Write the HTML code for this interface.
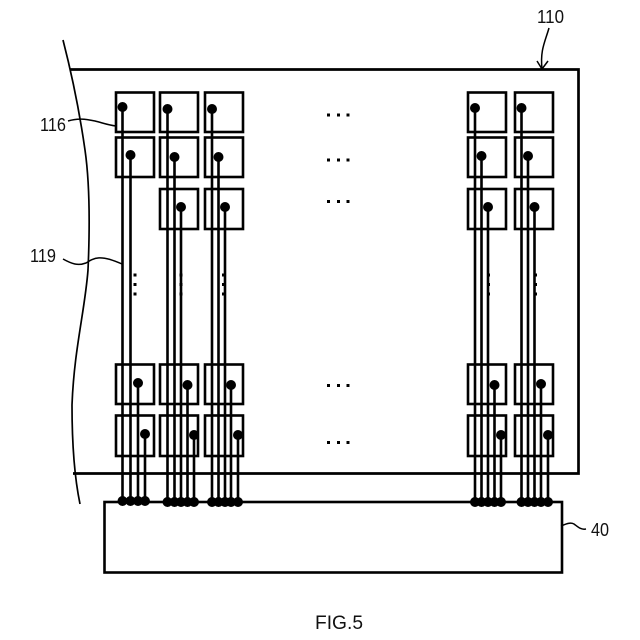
<!DOCTYPE html>
<html><head><meta charset="utf-8"><style>
html,body{margin:0;padding:0;background:#fff;width:640px;height:640px;overflow:hidden}
svg{display:block}
text{font-family:"Liberation Sans",sans-serif;fill:#111;font-size:18px}
</style></head><body>
<svg width="640" height="640" viewBox="0 0 640 640" xmlns="http://www.w3.org/2000/svg">
<rect width="640" height="640" fill="#fff"/>
<!-- outer panel -->
<path d="M70 69.5H578.500V473.500H73" fill="none" stroke="#000" stroke-width="2.700"/>
<!-- break line -->
<path d="M63 40C72 75 80 115 85 150C90 185 90 225 88 270C85 310 74 350 72 405C72 440 74 475 80 504" fill="none" stroke="#000" stroke-width="1.700"/>
<!-- chip -->
<rect x="104.500" y="502" width="457.500" height="70.500" fill="#fff" stroke="#000" stroke-width="2.600"/>
<!-- boxes -->
<g fill="none" stroke="#000" stroke-width="2.600">
<rect x="116" y="92.500" width="38" height="39.500"/><rect x="116" y="137.500" width="38" height="39.500"/>
<rect x="116" y="364.500" width="38" height="39.500"/><rect x="116" y="415.500" width="38" height="40.500"/>
<rect x="160" y="92.500" width="38" height="39.500"/><rect x="160" y="137.500" width="38" height="39.500"/><rect x="160" y="189" width="38" height="40"/>
<rect x="160" y="364.500" width="38" height="39.500"/><rect x="160" y="415.500" width="38" height="40.500"/>
<rect x="205" y="92.500" width="38" height="39.500"/><rect x="205" y="137.500" width="38" height="39.500"/><rect x="205" y="189" width="38" height="40"/>
<rect x="205" y="364.500" width="38" height="39.500"/><rect x="205" y="415.500" width="38" height="40.500"/>
<rect x="468" y="92.500" width="38" height="39.500"/><rect x="468" y="137.500" width="38" height="39.500"/><rect x="468" y="189" width="38" height="40"/>
<rect x="468" y="364.500" width="38" height="39.500"/><rect x="468" y="415.500" width="38" height="40.500"/>
<rect x="515" y="92.500" width="38" height="39.500"/><rect x="515" y="137.500" width="38" height="39.500"/><rect x="515" y="189" width="38" height="40"/>
<rect x="515" y="364.500" width="38" height="39.500"/><rect x="515" y="415.500" width="38" height="40.500"/>
</g>
<!-- wires -->
<g stroke="#000" stroke-width="2.600" fill="none">
<path d="M122.500 107V501M130.500 155V501M138 383V501M145 434V501"/>
<path d="M167.500 109V501M174.500 157V501M181 207V501M187.500 385V501M194 435V501"/>
<path d="M212 109V501M218.500 157V501M225 207V501M231 385V501M238 435V501"/>
<path d="M475 108V501M481.500 156V501M488 207V501M494.500 385V501M501 435V501"/>
<path d="M521.500 108V501M528 156V501M534.500 207V501M541 384V501M548 435V501"/>
</g>
<!-- dots -->
<g fill="#000">
<circle cx="122.500" cy="107" r="5"/><circle cx="130.500" cy="155" r="5"/><circle cx="138" cy="383" r="5"/><circle cx="145" cy="434" r="5"/>
<circle cx="167.500" cy="109" r="5"/><circle cx="174.500" cy="157" r="5"/><circle cx="181" cy="207" r="5"/><circle cx="187.500" cy="385" r="5"/><circle cx="194" cy="435" r="5"/>
<circle cx="212" cy="109" r="5"/><circle cx="218.500" cy="157" r="5"/><circle cx="225" cy="207" r="5"/><circle cx="231" cy="385" r="5"/><circle cx="238" cy="435" r="5"/>
<circle cx="475" cy="108" r="5"/><circle cx="481.500" cy="156" r="5"/><circle cx="488" cy="207" r="5"/><circle cx="494.500" cy="385" r="5"/><circle cx="501" cy="435" r="5"/>
<circle cx="521.500" cy="108" r="5"/><circle cx="528" cy="156" r="5"/><circle cx="534.500" cy="207" r="5"/><circle cx="541" cy="384" r="5"/><circle cx="548" cy="435" r="5"/>
<circle cx="122.500" cy="501" r="5"/><circle cx="130.500" cy="501" r="5"/><circle cx="138" cy="501" r="5"/><circle cx="145" cy="501" r="5"/>
<circle cx="167.500" cy="502" r="5"/><circle cx="174.500" cy="502" r="5"/><circle cx="181" cy="502" r="5"/><circle cx="187.500" cy="502" r="5"/><circle cx="194" cy="502" r="5"/>
<circle cx="212" cy="502" r="5"/><circle cx="218.500" cy="502" r="5"/><circle cx="225" cy="502" r="5"/><circle cx="231" cy="502" r="5"/><circle cx="238" cy="502" r="5"/>
<circle cx="475" cy="502" r="5"/><circle cx="481.500" cy="502" r="5"/><circle cx="488" cy="502" r="5"/><circle cx="494.500" cy="502" r="5"/><circle cx="501" cy="502" r="5"/>
<circle cx="521.500" cy="502" r="5"/><circle cx="528" cy="502" r="5"/><circle cx="534.500" cy="502" r="5"/><circle cx="541" cy="502" r="5"/><circle cx="548" cy="502" r="5"/>
<!-- ellipsis -->
<rect x="327" y="113.500" width="3" height="3"/><rect x="337" y="113.500" width="3" height="3"/><rect x="346.500" y="113.500" width="3" height="3"/>
<rect x="327" y="158.500" width="3" height="3"/><rect x="337" y="158.500" width="3" height="3"/><rect x="346.500" y="158.500" width="3" height="3"/>
<rect x="327" y="200" width="3" height="3"/><rect x="337" y="200" width="3" height="3"/><rect x="346.500" y="200" width="3" height="3"/>
<rect x="327" y="384" width="3" height="3"/><rect x="337" y="384" width="3" height="3"/><rect x="346.500" y="384" width="3" height="3"/>
<rect x="327" y="441" width="3" height="3"/><rect x="337" y="441" width="3" height="3"/><rect x="346.500" y="441" width="3" height="3"/>
<rect x="133.500" y="273.500" width="3" height="3"/><rect x="133.500" y="283" width="3" height="3"/><rect x="133.500" y="292.500" width="3" height="3"/>
<rect x="179.500" y="273.500" width="3" height="3"/><rect x="179.500" y="283" width="3" height="3"/><rect x="179.500" y="292.500" width="3" height="3"/>
<rect x="222" y="273.500" width="3" height="3"/><rect x="222" y="283" width="3" height="3"/><rect x="222" y="292.500" width="3" height="3"/>
<rect x="487" y="273.500" width="3" height="3"/><rect x="487" y="283" width="3" height="3"/><rect x="487" y="292.500" width="3" height="3"/>
<rect x="534" y="273.500" width="3" height="3"/><rect x="534" y="283" width="3" height="3"/><rect x="534" y="292.500" width="3" height="3"/>
</g>
<!-- leaders -->
<g fill="none" stroke="#000" stroke-width="1.500">
<path d="M68 121C78 118 85 119 95 121C103 123 108 125 116 126"/>
<path d="M63 259C72 264 78 266 86 263C94 258 100 254 122 264"/>
<path d="M549 28C545 42 540 50 542 69"/>
<path d="M537 61L542 69L548 61"/>
<path d="M561 526C566 524 570 522 574 524C578 527 581 530 586 529"/>
</g>
<!-- labels -->
<text x="537" y="23" textLength="27" lengthAdjust="spacingAndGlyphs">110</text>
<text x="40" y="131" textLength="26" lengthAdjust="spacingAndGlyphs">116</text>
<text x="30" y="262" textLength="26" lengthAdjust="spacingAndGlyphs">119</text>
<text x="591" y="536" textLength="18" lengthAdjust="spacingAndGlyphs">40</text>
<text x="315" y="629" textLength="48" lengthAdjust="spacingAndGlyphs" style="font-size:19px">FIG.5</text>
</svg>
</body></html>
